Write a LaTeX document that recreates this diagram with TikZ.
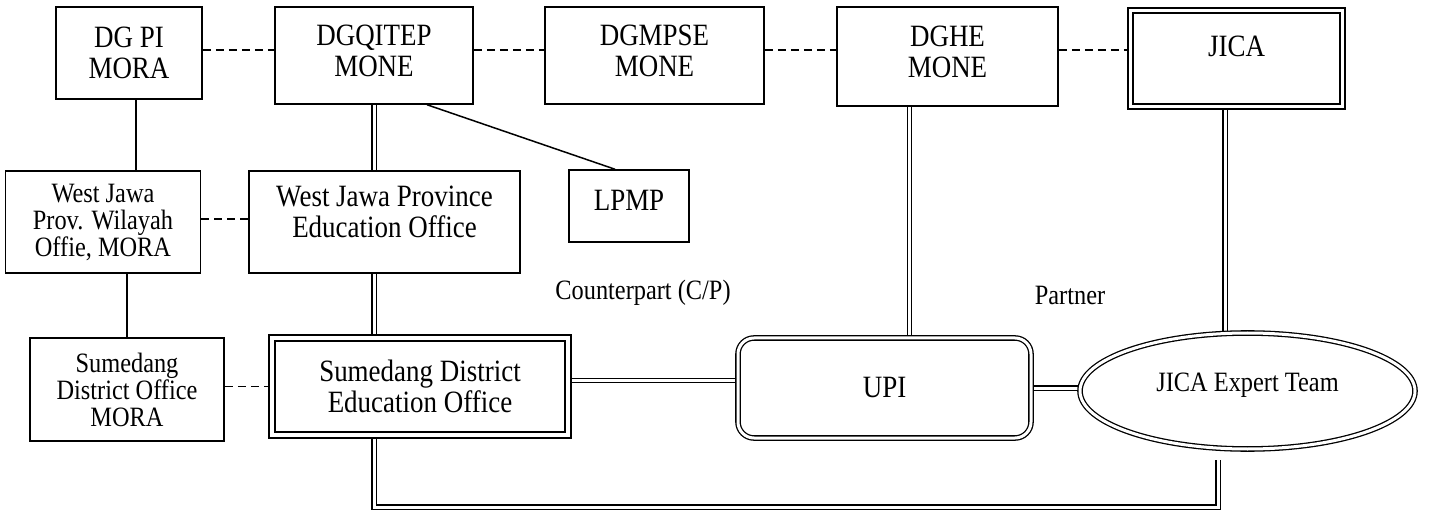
\documentclass[tikz,border=0pt]{standalone}
\usepackage{fontspec}
\setmainfont{Liberation Serif}[FakeStretch=0.87]
\usepackage{tikz}
\usetikzlibrary{shapes.geometric,backgrounds}

\begin{document}
\begin{tikzpicture}[x=1pt,y=-1pt,
		box/.style={draw,line width=1.5pt,align=center,inner sep=0pt,font=\fontsize{31}{31}\selectfont},
		small/.style={font=\fontsize{28}{27}\selectfont},
		dbox/.style={box,double,double distance=3.5pt,line width=2pt},
		dline/.style={double,double distance=3pt,line width=1.3pt},
		link/.style={dashed,dash pattern=on 8pt off 5pt,line width=1.5pt},
		note/.style={font=\fontsize{28}{28}\selectfont}]
			\useasboundingbox (0,0) rectangle (1429,510);
			
			% top row
			\node[box,minimum width=146pt,minimum height=92pt] (dgpi) at (129,53) {DG PI\\MORA};
			\node[box,minimum width=198pt,minimum height=97pt,text depth=10pt] (dgqitep) at (374,55.5) {DGQITEP\\MONE};
			\node[box,minimum width=219pt,minimum height=97pt,text depth=10pt] (dgmpse) at (654.5,55.5) {DGMPSE\\MONE};
			\node[box,minimum width=221pt,minimum height=99pt,text depth=10pt] (dghe) at (947.5,56.5) {DGHE\\MONE};
			\node[dbox,minimum width=212pt,minimum height=96pt,text depth=24pt] (jica) at (1236.5,58.5) {JICA};
			
			% province level
			\node[box,small,minimum width=195pt,minimum height=102pt] (wjprov) at (103,222) {West Jawa\\Prov. Wilayah\\Offie, MORA};
			\node[box,minimum width=271pt,minimum height=102pt,text depth=20pt] (wjedu) at (384.5,222) {West Jawa Province\\Education Office};
			\node[box,minimum width=120pt,minimum height=72pt,text depth=12pt] (lpmp) at (629,206) {LPMP};
			
			% district level
			\node[box,small,minimum width=194pt,minimum height=103pt] (sdmora) at (127,389.5) {Sumedang\\District Office\\MORA};
			\node[dbox,minimum width=296pt,minimum height=97pt] (sdeo) at (420,386.5) {Sumedang District\\Education Office};
			\node[box,double,double distance=3pt,line width=1.3pt,rounded corners=16pt,minimum width=293pt,minimum height=100pt] (upi) at (884.5,388) {UPI};
			\node[box,small,ellipse,double,double distance=3pt,line width=1.3pt,minimum width=335pt,minimum height=116pt,text depth=18pt] (jet) at (1247.5,391) {JICA Expert Team};
			
			\node[note] (cp) at (643,293) {Counterpart (C/P)};
			\node[note] (partner) at (1070,295) {Partner};
			
			\coordinate (row) at (0,50);
			\coordinate (base) at (0,507);
			\coordinate (gap) at (1218,460);
			
			\begin{scope}[on background layer]
			\draw[link] (dgpi.east |- row) -- (dgqitep.west |- row);
			\draw[link] (dgqitep.east |- row) -- (dgmpse.west |- row);
			\draw[link] (dgmpse.east |- row) -- (dghe.west |- row);
			\draw[link] (dghe.east |- row) -- (jica.west |- row);
			\draw[link] ([yshift=3pt]wjprov.east) -- ([yshift=3pt]wjprov.east -| wjedu.west);
			\draw[link] (sdmora.east |- sdeo.west) -- (sdeo.west);
			
			\draw[line width=1.5pt] ([xshift=7pt]dgpi.south) -- ([xshift=7pt]dgpi.south |- wjprov.north);
			\draw[line width=1.5pt] (sdmora.north |- wjprov.south) -- (sdmora.north);
			\draw[line width=1.5pt] ([xshift=53pt]dgqitep.south) -- ([xshift=-14pt]lpmp.north);
			
			\draw[dline] (dgqitep.south) -- (dgqitep.south |- wjedu.north);
			\draw[dline] (dgqitep.south |- wjedu.south) -- (dgqitep.south |- sdeo.north);
			\draw[dline] ([yshift=6pt]sdeo.east) -- ([yshift=6pt]sdeo.east -| upi.west);
			\draw[dline] (upi.east) -- (upi.east -| jet.west);
			\draw[dline] ([xshift=-38pt]dghe.south) -- ([xshift=-38pt]dghe.south |- upi.north);
			\draw[dline] ([xshift=-11.5pt]jica.south) -- ([xshift=-11.5pt]jica.south |- jet.north);
			\draw[dline] (dgqitep.south |- sdeo.south) |- (gap |- base) -- (gap);
			\end{scope}
			
		\end{tikzpicture}
\end{document}
